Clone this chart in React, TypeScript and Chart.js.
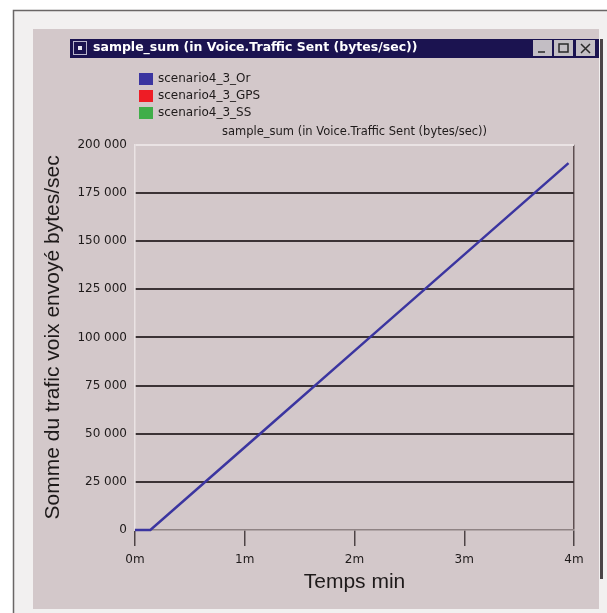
import React, { useEffect, useRef } from 'react';
import { Chart, registerables } from 'chart.js';

Chart.register(...registerables);

const windowTitle = 'sample_sum (in Voice.Traffic Sent (bytes/sec))';
const chartTitle = 'sample_sum (in Voice.Traffic Sent (bytes/sec))';
const seriesNames = ['scenario4_3_Or', 'scenario4_3_GPS', 'scenario4_3_SS'];
const seriesColors = ['#3b35a0', '#ee1c25', '#3fae49'];
const timeMin = [0, 0.14, 1.14, 2.14, 3.14, 3.95];
const orValues = [0, 0, 50000, 100000, 150000, 190500];
const gpsValues: number[] = [];
const ssValues: number[] = [];
const xTickValues = [0, 1, 2, 3, 4];
const yTickValues = [0, 25000, 50000, 75000, 100000, 125000, 150000, 175000, 200000];
const xTitle = 'Temps min';
const yTitle = 'Somme du trafic voix envoyé bytes/sec';

const PANEL = '#d3c8ca';
const DARK = '#3c3335';
const TEXT = '#1e1a1a';

const fmt = (v: number) => String(v).replace(/\B(?=(\d{3})+(?!\d))/g, ' ');

const framePlugin = {
  id: 'frame',
  afterLayout(chart: any) {
    const t = chart.titleBlock;
    if (t && chart.chartArea) {
      t.left = chart.chartArea.left;
      t.right = chart.chartArea.right;
      t.width = t.right - t.left;
    }
  },
  beforeDraw(chart: any) {
    const c = chart.ctx;
    c.save();
    c.fillStyle = '#ffffff';
    c.fillRect(0, 0, chart.width, chart.height);
    c.fillStyle = '#f2f0f0';
    c.fillRect(13, 10, chart.width - 13, chart.height - 10);
    c.strokeStyle = '#6a6666';
    c.lineWidth = 1.5;
    c.beginPath();
    c.moveTo(13.5, chart.height);
    c.lineTo(13.5, 10.5);
    c.lineTo(chart.width, 10.5);
    c.stroke();
    // panel
    c.fillStyle = PANEL;
    c.fillRect(33, 29, 566, 580);
    // window right edge
    c.fillStyle = '#4a4446';
    c.fillRect(600, 39, 3, 540);
    // title bar
    c.fillStyle = '#1b1350';
    c.fillRect(70, 39, 529, 19);
    // icon
    c.strokeStyle = '#b9b5cc';
    c.lineWidth = 1;
    c.strokeRect(73.5, 41.5, 13, 13);
    c.fillStyle = '#e8e6f0';
    c.fillRect(78, 46, 4, 4);
    c.fillStyle = '#ffffff';
    c.font = 'bold 12.5px "DejaVu Sans"';
    c.textBaseline = 'middle';
    c.textAlign = 'left';
    c.fillText(windowTitle, 93, 48);
    // buttons
    const bx = [533, 554, 576];
    bx.forEach((x, i) => {
      c.fillStyle = '#c3bec4';
      c.fillRect(x, 40, 19, 16);
      c.strokeStyle = '#2a2a2a';
      c.lineWidth = 1.5;
      c.beginPath();
      if (i === 0) {
        c.moveTo(x + 5, 52); c.lineTo(x + 12, 52);
      } else if (i === 1) {
        c.rect(x + 5, 44, 9, 8);
      } else {
        c.moveTo(x + 5, 44); c.lineTo(x + 14, 53);
        c.moveTo(x + 14, 44); c.lineTo(x + 5, 53);
      }
      c.stroke();
    });
    c.restore();
  },
  afterDraw(chart: any) {
    const c = chart.ctx;
    c.save();
    c.font = '12px "DejaVu Sans"';
    c.textBaseline = 'middle';
    c.textAlign = 'left';
    chart.data.datasets.forEach((ds: any, i: number) => {
      const y = 79 + i * 17;
      c.fillStyle = ds.borderColor;
      c.fillRect(139, y - 6, 14, 12);
      c.fillStyle = TEXT;
      c.fillText(ds.label, 158, y);
    });
    c.restore();
  },
};

export default function App() {
  const ref = useRef<HTMLCanvasElement | null>(null);
  useEffect(() => {
    if (!ref.current) return;
    const mk = (vals: number[]) => vals.map((y, i) => ({ x: timeMin[i], y }));
    const chart = new Chart(ref.current, {
      type: 'line',
      data: {
        datasets: [
          { label: seriesNames[0], data: mk(orValues), borderColor: seriesColors[0], backgroundColor: seriesColors[0], borderWidth: 2.5, pointRadius: 0, tension: 0, clip: false },
          { label: seriesNames[1], data: mk(gpsValues), borderColor: seriesColors[1], backgroundColor: seriesColors[1], borderWidth: 2.5, pointRadius: 0 },
          { label: seriesNames[2], data: mk(ssValues), borderColor: seriesColors[2], backgroundColor: seriesColors[2], borderWidth: 2.5, pointRadius: 0 },
        ],
      },
      options: {
        responsive: false,
        animation: false,
        layout: { padding: { left: 33, right: 33, top: 125, bottom: 17 } },
        plugins: {
          legend: { display: false },
          tooltip: { enabled: false },
          title: {
            display: true,
            text: chartTitle,
            font: { family: '"DejaVu Sans"', size: 11.5, weight: 'normal' },
            color: TEXT,
            padding: { top: 0, bottom: 6 },
          },
        },
        scales: {
          x: {
            type: 'linear',
            min: 0,
            max: 4,
            afterFit: (s: any) => { s.height = 66; },
            afterBuildTicks: (s: any) => { s.ticks = xTickValues.map((v) => ({ value: v })); },
            ticks: {
              callback: (v: any) => v + 'm',
              font: { family: '"DejaVu Sans"', size: 12 },
              color: TEXT,
              padding: 7,
              maxRotation: 0,
            },
            grid: {
              color: (ctx: any) => (ctx.tick && ctx.tick.value === 4 ? '#5e4f51' : 'rgba(0,0,0,0)'),
              lineWidth: 1.5,
              tickColor: '#4e4446',
              tickLength: 16,
              drawTicks: true,
            },
            border: { display: true, color: '#8f8384', width: 1.5 },
            title: {
              display: true,
              text: xTitle,
              font: { family: '"Liberation Sans"', size: 21 },
              color: TEXT,
              padding: { top: 0, bottom: 1.5 },
            },
          },
          y: {
            type: 'linear',
            min: 0,
            max: 200000,
            afterFit: (s: any) => { s.width = 102; },
            afterBuildTicks: (s: any) => { s.ticks = yTickValues.map((v) => ({ value: v })); },
            ticks: {
              callback: (v: any) => fmt(Number(v)),
              font: { family: '"DejaVu Sans"', size: 12 },
              color: TEXT,
              padding: 8,
            },
            grid: {
              color: (ctx: any) => {
                const v = ctx.tick ? ctx.tick.value : 0;
                if (v > 0 && v < 200000) return DARK;
                if (v === 200000) return 'rgba(236,230,231,0.9)';
                return 'rgba(0,0,0,0)';
              },
              lineWidth: 2,
              drawTicks: false,
            },
            border: { display: true, color: 'rgba(236,230,231,0.9)', width: 1.5 },
            title: {
              display: true,
              text: yTitle,
              font: { family: '"Liberation Sans"', size: 21 },
              color: TEXT,
              padding: { top: 7.5, bottom: 0 },
            },
          },
        },
      },
      plugins: [framePlugin],
    } as any);
    return () => chart.destroy();
  }, []);
  return (
    <div style={{ position: 'absolute', left: 0, top: 0, width: 607, height: 613 }}>
      <canvas ref={ref} width={607} height={613} style={{ display: 'block' }} />
    </div>
  );
}
